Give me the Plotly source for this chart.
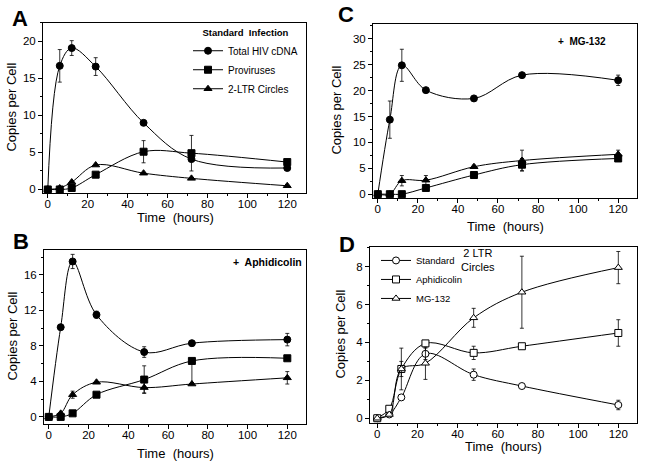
import plotly.graph_objects as go

hours = [0, 6, 12, 24, 48, 72, 120]

# Panel A - standard infection
a_total = [0, 16.7, 19.1, 16.6, 9.0, 4.1, 2.9]
a_total_err = [0, 2.2, 1.0, 1.2, 0.2, 0.3, 0.2]
a_prov = [0, 0, 0.2, 2.0, 5.1, 4.9, 3.7]
a_prov_err = [0, 0, 0, 0, 1.5, 2.4, 0.2]
a_ltr = [0, 0.2, 1.0, 3.3, 2.2, 1.5, 0.5]
a_ltr_err = [0, 0, 0, 0, 0, 0, 0]

# Panel C - MG-132
c_total = [0, 14.4, 24.9, 20.1, 18.5, 23.0, 22.0]
c_total_err = [0, 3.6, 3.1, 0, 0, 0, 1.0]
c_prov = [0, 0, 0, 1.2, 3.7, 5.7, 6.9]
c_prov_err = [0, 0, 0, 0, 0, 1.2, 0.4]
c_ltr = [0, 0, 2.6, 2.7, 5.3, 6.5, 7.7]
c_ltr_err = [0, 0, 1.0, 0.9, 0.3, 2.0, 0.8]

# Panel B - aphidicolin
b_total = [0, 10.1, 17.5, 11.5, 7.3, 8.3, 8.7]
b_total_err = [0, 0, 0.8, 0.4, 0.6, 0.3, 0.7]
b_prov = [0, 0, 0.4, 2.5, 4.2, 6.3, 6.6]
b_prov_err_plus = [0, 0, 0, 0, 1.55, 0, 0]
b_prov_err_minus = [0, 0, 0, 0, 1.55, 2.5, 0]
b_ltr = [0, 0.4, 2.5, 3.9, 3.3, 3.7, 4.4]
b_ltr_err = [0, 0, 0.4, 0, 0.6, 0, 0.7]

# Panel D - 2 LTR circles
d_std = [0, 0.2, 1.1, 3.4, 2.3, 1.7, 0.7]
d_std_err = [0, 0, 0, 0.3, 0.3, 0, 0.25]
d_aph = [0, 0.5, 2.6, 3.95, 3.45, 3.8, 4.5]
d_aph_err = [0, 0, 0.4, 0, 0.35, 0, 0.7]
d_mg = [0, 0.2, 2.6, 2.9, 5.3, 6.65, 7.95]
d_mg_err = [0, 0, 1.1, 0.85, 0.5, 1.9, 0.85]

FONT = "Arial, Liberation Sans, Helvetica, sans-serif"
fig = go.Figure()


def add(x, y, err, ax, symbol, name=None, legend=None, err_minus=None, open_=False):
    ed = dict(type="data", array=err, visible=True, color="black", thickness=0.8, width=2)
    if err_minus is not None:
        ed["symmetric"] = False
        ed["arrayminus"] = err_minus
    mk = dict(symbol=symbol, size=7, color="white" if open_ else "black",
              line=dict(color="black", width=1))
    tr = go.Scatter(x=x, y=y, mode="lines+markers",
                    line=dict(color="black", width=1, shape="spline", smoothing=1.0),
                    marker=mk, error_y=ed, xaxis="x" + ax, yaxis="y" + ax,
                    name=name if name else "", showlegend=legend is not None)
    if legend is not None:
        tr.legend = legend
    fig.add_trace(tr)


# A
add(hours, a_total, a_total_err, "", "circle", "Total HIV cDNA", "legend")
add(hours, a_prov, a_prov_err, "", "square", "Proviruses", "legend")
add(hours, a_ltr, a_ltr_err, "", "triangle-up", "2-LTR Circles", "legend")
# C
add(hours, c_total, c_total_err, "2", "circle")
add(hours, c_prov, c_prov_err, "2", "square")
add(hours, c_ltr, c_ltr_err, "2", "triangle-up")
# B
add(hours, b_total, b_total_err, "3", "circle")
add(hours, b_prov, b_prov_err_plus, "3", "square", err_minus=b_prov_err_minus)
add(hours, b_ltr, b_ltr_err, "3", "triangle-up")
# D
add(hours, d_std, d_std_err, "4", "circle", "Standard", "legend2", open_=True)
add(hours, d_aph, d_aph_err, "4", "square", "Aphidicolin", "legend2", open_=True)
add(hours, d_mg, d_mg_err, "4", "triangle-up", "MG-132", "legend2", open_=True)

W, H = 648, 466


def xd(a, b):
    return [a / W, b / W]


def yd(top, bot):
    return [1 - bot / H, 1 - top / H]


axbase = dict(showline=True, linecolor="black", linewidth=1, mirror=True, ticks="outside", ticklen=4,
              tickcolor="black", showgrid=False, zeroline=False,
              tickfont=dict(size=11.5, color="black", family=FONT))

xrange = [-2.4, 129.4]
xcommon = dict(axbase, range=xrange, dtick=20, tick0=0, ticklabelstandoff=-4,
               minor=dict(ticks="outside", ticklen=2, dtick=10, tickcolor="black"))

panels = {
    "": dict(x=xd(43, 306), y=yd(23, 194), yr=[-0.5, 22.5], dt=5, mdt=2.5),
    "2": dict(x=xd(373, 637), y=yd(24, 199), yr=[-0.77, 32.9], dt=5, mdt=2.5),
    "3": dict(x=xd(44, 306), y=yd(251, 426), yr=[-0.82, 18.8], dt=4, mdt=2),
    "4": dict(x=xd(370, 637), y=yd(248, 425), yr=[-0.26, 9.04], dt=2, mdt=1),
}
lay = {}
for k, p in panels.items():
    lay["xaxis" + k] = dict(xcommon, domain=p["x"], anchor="y" + k)
    lay["yaxis" + k] = dict(axbase, domain=p["y"], anchor="x" + k, range=p["yr"], dtick=p["dt"], tick0=0,
                            minor=dict(ticks="outside", ticklen=2, dtick=p["mdt"], tickcolor="black"))
lay["xaxis4"]["range"] = [-3.6, 129.3]

ann = []
# panel letters
for t, x, y in [("A", 20, 19), ("C", 346, 15), ("B", 21, 243), ("D", 347, 246)]:
    ann.append(dict(text="<b>%s</b>" % t, x=x / W, y=1 - y / H, xref="paper", yref="paper", showarrow=False,
                    font=dict(size=22, family=FONT, color="black"), xanchor="center", yanchor="middle"))
# axis titles
for x, y in [(175, 218), (505, 227), (175, 455), (503, 448)]:
    ann.append(dict(text="Time  (hours)", x=x / W, y=1 - y / H, xref="paper", yref="paper", showarrow=False,
                    font=dict(size=13, family=FONT, color="black"), xanchor="center", yanchor="middle"))
for x, y in [(12, 108), (337, 111), (13, 338), (341, 336)]:
    ann.append(dict(text="Copies per Cell", x=x / W, y=1 - y / H, xref="paper", yref="paper", showarrow=False,
                    textangle=-90, font=dict(size=13, family=FONT, color="black"),
                    xanchor="center", yanchor="middle"))
ann.append(dict(text="<b>+  MG-132</b>", x=608 / W, y=1 - 34 / H, xref="paper", yref="paper",
                showarrow=False, font=dict(size=10, family=FONT, color="black")))
ann.append(dict(text="<b>+  Aphidicolin</b>", x=267 / W, y=1 - 263 / H, xref="paper", yref="paper",
                showarrow=False, font=dict(size=10.5, family=FONT, color="black")))
ann.append(dict(text="2 LTR<br>Circles", x=497 / W, y=1 - 261 / H, xref="paper", yref="paper",
                showarrow=False, font=dict(size=11, family=FONT, color="black")))

fig.update_layout(
    width=W, height=H, margin=dict(l=0, r=0, t=0, b=0), paper_bgcolor="white", plot_bgcolor="white",
    font=dict(family=FONT, color="black"), annotations=ann,
    legend=dict(x=188 / W, y=1 - 24 / H, xanchor="left", yanchor="top", bgcolor="rgba(0,0,0,0)",
                font=dict(size=10, family=FONT), itemwidth=30, tracegroupgap=0,
                title=dict(text="<b>Standard  Infection</b>", side="top center",
                           font=dict(size=9.5, family=FONT))),
    legend2=dict(x=376 / W, y=1 - 247 / H, xanchor="left", yanchor="top", bgcolor="rgba(0,0,0,0)",
                 font=dict(size=9.5, family=FONT), itemwidth=30, tracegroupgap=0),
    **lay,
)
fig.write_html("out.html", config={"displayModeBar": False},
               post_script="document.body.style.margin='0';")
